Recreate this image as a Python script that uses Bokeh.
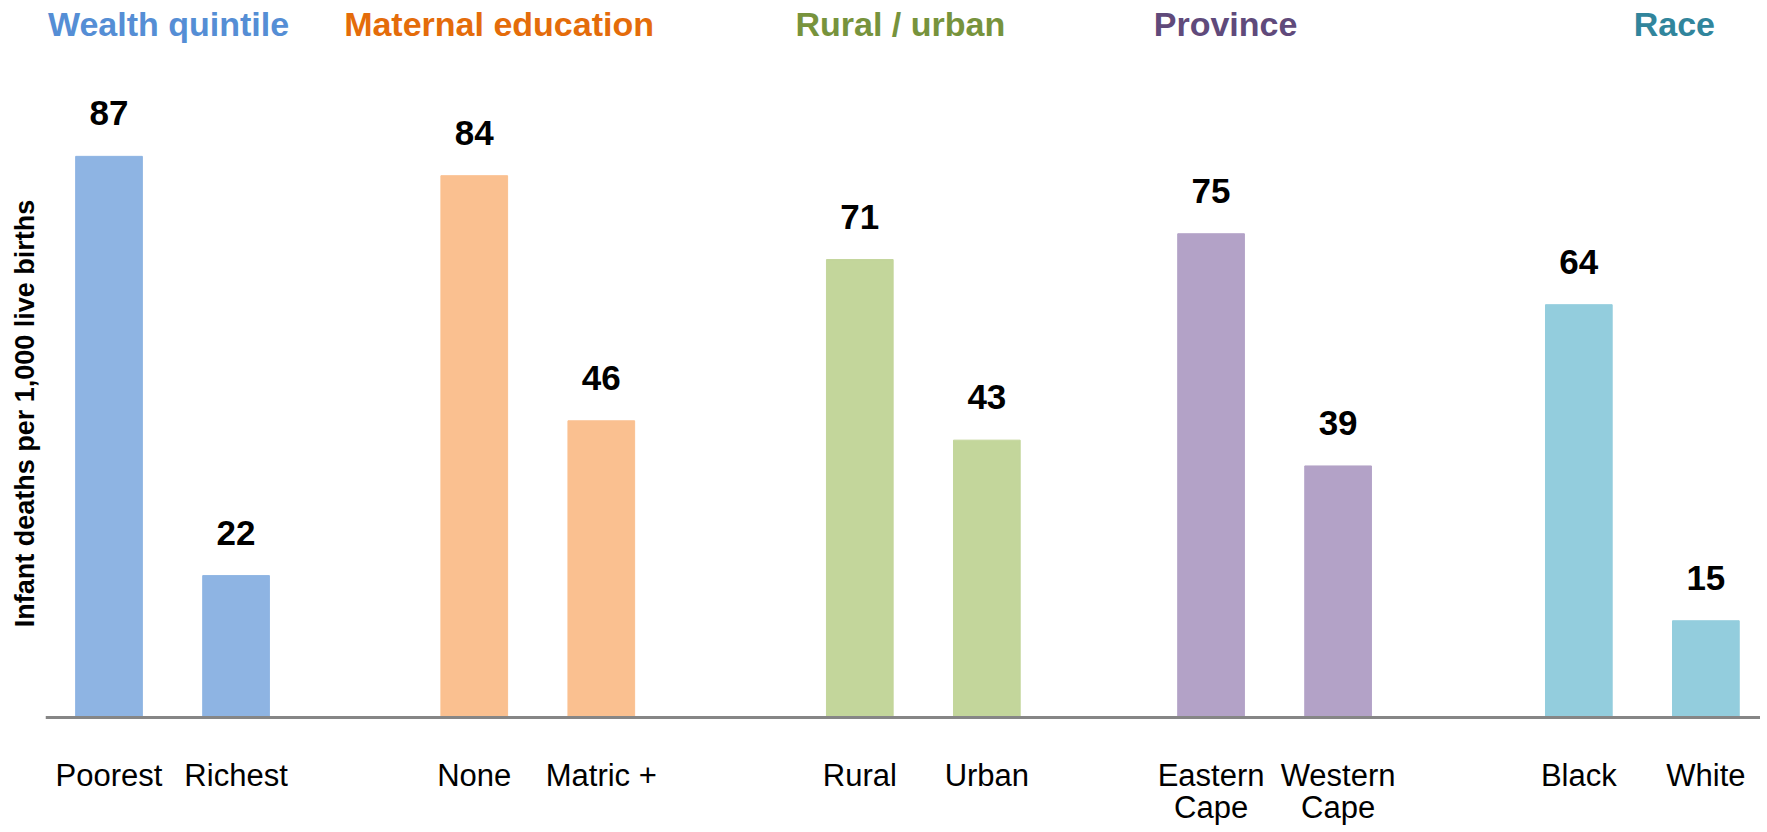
from bokeh.plotting import figure
from bokeh.models import FactorRange, Range1d, Span, ColumnDataSource, LinearAxis, FixedTicker
from bokeh.core.properties import value
from bokeh.transform import dodge
from bokeh.embed import file_html
from bokeh.resources import INLINE

# ---- data ----
groups = ["Wealth quintile", "Maternal  education", "Rural / urban", "Province", "Race"]
categories = [["Poorest", "Richest"], ["None", "Matric +"], ["Rural", "Urban"],
              ["Eastern\nCape", "Western\nCape"], ["Black", "White"]]
rates = [[87, 22], [84, 46], [71, 43], [75, 39], [64, 15]]
y_label = "Infant deaths per 1,000 live births"

# ---- styles / layout ----
bar_colors = ["#8EB4E3", "#FAC090", "#C3D69B", "#B3A2C7", "#93CDDD"]
title_colors = ["#558ED5", "#E46C0A", "#77933C", "#604A7B", "#31859C"]
group_shift = [0.0, 0.0, 0.16, 0.05, 0.07]      # small per-group nudge (factor units)
title_shift_px = [-4, -34, -23, -49, 32]
FONT = "Liberation Sans"

W, H = 1760, 826
BASE = 717          # px from figure top to the baseline
PX_PER_UNIT = 6.45

y_end = BASE / PX_PER_UNIT
y_start = -(H - BASE) / PX_PER_UNIT

factors = [(g, c) for g, cl in zip(groups, categories) for c in cl]

p = figure(width=W, height=H,
           x_range=FactorRange(*factors, factor_padding=0.0, group_padding=0.875, range_padding=0.0),
           y_range=Range1d(y_start, y_end),
           output_backend="svg", toolbar_location=None,
           x_axis_location=None, y_axis_location=None,
           min_border_left=45, min_border_right=0, min_border_top=0, min_border_bottom=0,
           outline_line_color=None, background_fill_color="white")
p.grid.visible = False

yax = LinearAxis(ticker=FixedTicker(ticks=[]), axis_label=y_label,
                 axis_line_color=None, major_tick_line_color=None, minor_tick_line_color=None,
                 major_tick_in=0, major_tick_out=0, minor_tick_in=0, minor_tick_out=0,
                 major_label_text_font_size="0px", major_label_standoff=0,
                 axis_label_standoff=6,
                 axis_label_text_font=FONT, axis_label_text_font_style="bold",
                 axis_label_text_font_size="27px", axis_label_text_color="black")
p.add_layout(yax, "left")

for g, cl, vl, bc, tc, sh, tdx in zip(groups, categories, rates, bar_colors,
                                      title_colors, group_shift, title_shift_px):
    src = ColumnDataSource(dict(x=[(g, c) for c in cl], top=vl, cat=cl,
                                lab=[str(v) for v in vl], zero=[0] * len(cl)))
    xd = dodge("x", sh, range=p.x_range)
    p.vbar(x=xd, top="top", bottom=0, width=0.525, color=bc, source=src)
    # value labels
    p.text(x=xd, y="top", text="lab", source=src,
           text_font=value(FONT), text_font_style="bold", text_font_size="35px",
           text_color="black", text_align="center", text_baseline="bottom", y_offset=-31)
    # category labels
    p.text(x=xd, y="zero", text="cat", source=src,
           text_font=value(FONT), text_font_size="31px", text_color="black",
           text_align="center", text_baseline="top", y_offset=40, text_line_height=0.92)
    # group title
    tsrc = ColumnDataSource(dict(x=[g], y=[y_end], t=[g]))
    p.text(x=dodge("x", sh, range=p.x_range), y="y", text="t", source=tsrc,
           text_color=tc, x_offset=tdx,
           text_font=value(FONT), text_font_style="bold", text_font_size="34px",
           text_align="center", text_baseline="top", y_offset=4)

p.add_layout(Span(location=0, dimension="width", line_color="#868686", line_width=3))

open("out.html", "w").write(file_html(p, INLINE))
